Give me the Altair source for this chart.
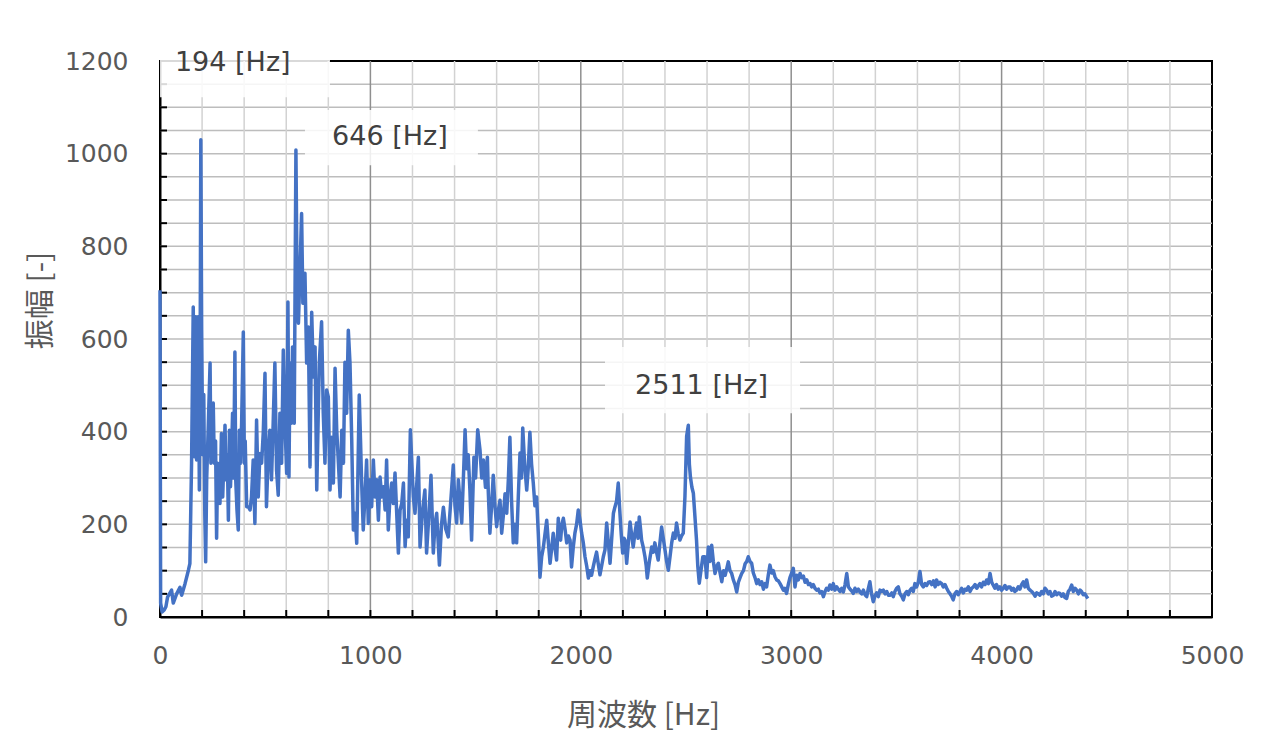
import altair as alt
import pandas as pd

# ---- spectrum data (frequency [Hz], amplitude [-]) ----
freq = [0, 3, 10, 20, 28, 36, 55, 63, 79, 95, 103, 119, 135, 142, 150, 158, 163, 169, 174, 182, 187, 191, 194,
        198, 203, 208, 213, 217, 222, 230, 238, 242, 246, 253, 258, 264, 269, 274, 280, 285, 292, 298, 303, 309,
        314, 320, 325, 330, 335, 340, 345, 350, 356, 360, 366, 372, 377, 383, 388, 396, 401, 405, 412, 420, 428,
        435, 443, 451, 459, 467, 475, 483, 491, 499, 506, 514, 522, 530, 538, 546, 554, 562, 570, 578, 586, 594,
        602, 608, 613, 618, 624, 630, 638, 646, 652, 658, 666, 673, 679, 689, 697, 705, 713, 721, 729, 737, 745,
        757, 768, 776, 784, 792, 800, 808, 816, 824, 832, 840, 848, 856, 864, 872, 879, 887, 895, 903, 911, 919,
        927, 935, 947, 953, 958, 966, 974, 982, 990, 998, 1006, 1014, 1022, 1030, 1038, 1046, 1054, 1062, 1070,
        1077, 1085, 1093, 1101, 1109, 1117, 1125, 1133, 1141, 1149, 1157, 1165, 1172, 1180, 1190,
        1204, 1212, 1228, 1236, 1248, 1259, 1267, 1278, 1288, 1299, 1307, 1315, 1328, 1338, 1347, 1358, 1370,
        1382, 1394, 1402, 1410, 1418, 1434, 1442, 1450, 1457, 1465, 1473, 1481, 1492, 1500, 1510, 1521, 1529,
        1537, 1547, 1556, 1560, 1568, 1576, 1584, 1592, 1600, 1608, 1616, 1624, 1632, 1640, 1648, 1656, 1663,
        1671, 1679, 1687, 1695, 1703, 1711, 1718, 1724, 1733, 1743, 1750, 1758, 1766, 1774, 1782, 1790, 1798,
        1806, 1814, 1822, 1830, 1838,
        1846, 1854, 1862, 1869, 1877, 1885, 1893, 1898, 1904, 1910, 1917, 1925, 1933, 1941, 1949, 1956, 1964,
        1972, 1980, 1988, 1996, 2004, 2012, 2020, 2028, 2036, 2044, 2051, 2059, 2067, 2075, 2083, 2091, 2099,
        2107, 2115, 2123, 2131, 2139, 2147, 2155, 2162, 2170, 2178, 2186, 2192, 2199, 2205, 2210, 2218, 2226,
        2234, 2241, 2249, 2257, 2265, 2272, 2278, 2284, 2289, 2297, 2305, 2311, 2316, 2326, 2337, 2345, 2352,
        2360, 2368, 2376, 2384, 2392, 2400, 2408, 2416, 2424, 2432, 2440, 2448, 2455, 2463, 2471, 2479, 2487,
        2495, 2503, 2511, 2516, 2521, 2528, 2535, 2542, 2550, 2556, 2563,
        2571, 2580, 2590, 2598, 2606, 2614, 2622, 2630, 2638, 2646, 2654, 2662, 2670, 2678, 2686, 2694, 2701,
        2709, 2717, 2725, 2733, 2741, 2749, 2757, 2765, 2773, 2781, 2789, 2796, 2804, 2812, 2820, 2828, 2836,
        2844, 2852, 2860, 2868, 2876, 2883, 2891, 2899, 2907, 2915, 2923, 2931, 2939, 2947, 2955, 2963, 2970,
        2978, 2986, 2994, 3002, 3010, 3018, 3026, 3034, 3042, 3050, 3058, 3066, 3074, 3082, 3090, 3097, 3105,
        3113, 3121, 3129, 3137, 3145, 3153, 3161, 3168, 3176, 3184, 3192, 3200, 3208, 3216, 3224, 3232, 3240,
        3248, 3256, 3264, 3272, 3280, 3288, 3295, 3303, 3311, 3319, 3327, 3335, 3343, 3351, 3359, 3366, 3374,
        3382, 3390, 3398, 3406, 3414, 3422, 3430, 3438, 3446, 3454, 3462, 3470, 3478, 3485, 3493, 3501, 3509,
        3517, 3525, 3533, 3541, 3549, 3557, 3565, 3573, 3580, 3588, 3596, 3604, 3612, 3620, 3628, 3636, 3644,
        3652, 3660, 3668, 3676, 3684, 3691, 3699, 3707, 3715, 3723, 3731, 3739, 3747, 3755, 3762, 3770, 3778,
        3786, 3794, 3802, 3810, 3818, 3826, 3834, 3842, 3850, 3858, 3866, 3874, 3882, 3890, 3897, 3905, 3913,
        3921, 3929, 3937, 3945, 3953, 3961, 3968, 3976, 3984, 3992, 4000, 4008, 4016, 4024, 4032, 4040, 4048,
        4056, 4063, 4071, 4079, 4087, 4095, 4103, 4111, 4119, 4127, 4135, 4143, 4151, 4159, 4167, 4174, 4182,
        4190, 4198, 4206, 4214, 4222, 4230, 4238, 4246, 4254, 4262, 4270, 4277, 4285, 4293, 4301, 4309, 4317,
        4325, 4333, 4341, 4349, 4357, 4365, 4373, 4380, 4388, 4396, 4404, 4410]

amp = [705, 30, 11, 15, 22, 43, 58, 30, 50, 64, 47, 72, 101, 115, 332, 669, 346, 648, 339, 648, 274, 583, 1030,
       620, 350, 480, 220, 119, 300, 420, 548, 332, 400, 462, 332, 380, 170, 332, 290, 245, 396, 259, 330, 414,
       296, 350, 209, 403, 281, 350, 440, 300, 572, 296, 230, 188, 403, 332, 420, 615, 332, 380, 238, 238, 231,
       259, 339, 202, 425, 259, 353, 332, 400, 526, 238, 346, 403, 296, 420, 548, 317, 263, 440, 332, 576, 418,
       310, 680, 302, 548, 418, 583, 418, 1008, 691, 634, 760, 871, 677, 742, 548, 626, 324, 658, 518, 583, 274,
       548, 637, 440, 332, 490, 475, 274, 388, 289, 537, 403, 332, 259, 403, 332, 550, 440, 619, 548, 388, 188,
       224, 159, 479, 382, 296, 188, 259, 339, 202, 296, 238, 339, 259, 296, 209, 302, 259, 281, 231,
       339, 188, 259, 289, 245, 311, 224, 138, 231, 245, 289, 152, 209, 173, 404,
       260, 224, 345, 151, 230, 274, 138, 220, 306, 138, 200, 224, 112, 200, 237, 190, 173,
       250, 328, 240, 203, 296, 203, 300, 404, 320, 350, 274, 166, 345, 300, 404, 360, 300,
       339, 280, 345, 274, 181, 240, 306, 240, 195, 230, 252, 181, 220, 266, 224, 300, 388,
       250, 160, 200, 160, 260, 354, 300, 408, 330, 274, 320, 399, 330, 290, 240, 259, 180,
       86, 130, 150, 180, 209,
       160, 116, 150, 181, 150, 123, 213, 170, 166, 200, 213, 190, 160, 175, 166, 108, 150,
       181, 200, 231, 210, 181, 160, 130, 110, 84, 100, 90, 108, 125, 140, 115, 91, 110,
       130, 145, 203, 160, 116, 170, 224, 237, 250, 289, 224, 180, 138, 170, 166, 116, 160,
       205, 180, 151, 180, 203, 170, 216, 190, 166, 150, 130, 110, 84, 120, 151, 140, 160,
       140, 123, 160, 194, 170, 145, 120, 101, 130, 160, 181, 170, 203, 180, 166, 175, 181,
       260, 390, 414, 330, 302, 280, 267, 220, 166, 110, 73,
       100, 130, 130, 85, 151, 120, 155, 120, 94, 110, 116, 95, 76, 100, 90, 105, 119,
       100, 94, 80, 70, 54, 75, 85, 94, 100, 115, 120, 130, 120, 116, 95, 85, 72,
       80, 70, 76, 60, 72, 65, 90, 112, 95, 100, 87, 80, 78, 72, 65, 58, 62,
       51, 70, 85, 95, 105, 65, 90, 80, 94, 85, 88, 75, 80, 70, 72, 65, 70,
       62, 58, 60, 52, 55, 44, 55, 62, 58, 69, 60, 72, 58, 65, 60, 55, 62,
       54, 70, 94, 65, 60, 56, 51, 62, 55, 60, 54, 50, 58, 48, 44, 60, 76,
       50, 33, 45, 52, 44, 58, 55, 58, 50, 55, 47, 47, 52, 44, 55, 62, 65,
       50, 45, 37, 50, 55, 48, 58, 62, 55, 72, 65, 75, 98, 70, 65, 72, 68,
       75, 76, 70, 78, 65, 80, 70, 75, 72, 65, 70, 62, 55, 50, 45, 37, 50,
       55, 48, 55, 62, 52, 60, 58, 65, 55, 62, 65, 70, 62, 68, 72, 65, 75,
       70, 80, 72, 94, 75, 68, 62, 70, 60, 65, 58, 62, 68, 60, 65, 65, 58,
       62, 55, 58, 65, 60, 70, 76, 65, 80, 62, 58, 55, 51, 45, 52, 50, 47,
       55, 50, 62, 58, 50, 55, 45, 47, 55, 48, 52, 51, 45, 50, 42, 40, 55,
       60, 69, 55, 62, 58, 50, 58, 55, 48, 50, 44, 40]

# ---- axis ticks / grid values ----
x_label_values = [0, 1000, 2000, 3000, 4000, 5000]
y_label_values = [0, 200, 400, 600, 800, 1000, 1200]
x_minor_grid = [200, 400, 600, 800, 1200, 1400, 1600, 1800, 2200, 2400, 2600, 2800,
                3200, 3400, 3600, 3800, 4200, 4400, 4600, 4800]
x_major_grid = [1000, 2000, 3000, 4000]
y_grid = [50, 100, 150, 200, 250, 300, 350, 400, 450, 500, 550, 600, 650, 700, 750,
          800, 850, 900, 950, 1000, 1050, 1100, 1150]
x_tick_values = [0, 200, 400, 600, 800, 1000, 1200, 1400, 1600, 1800, 2000, 2200, 2400,
                 2600, 2800, 3000, 3200, 3400, 3600, 3800, 4000, 4200, 4400, 4600, 4800, 5000]
y_tick_values = [0, 50, 100, 150, 200, 250, 300, 350, 400, 450, 500, 550, 600, 650, 700,
                 750, 800, 850, 900, 950, 1000, 1050, 1100, 1150, 1200]

# ---- peak annotations ----
ann_text = ["194 [Hz]", "646 [Hz]", "2511 [Hz]"]
ann_x = [71, 818, 2258]
ann_y = [1195, 1036, 499]
box_x1 = [0, 689, 2115]
box_x2 = [808, 1511, 3042]
box_y1 = [1122, 975, 440]
box_y2 = [1219, 1094, 583]

W, H = 1052, 556

df = pd.DataFrame({"f": freq, "a": amp})
ann = pd.DataFrame({"t": ann_text, "x": ann_x, "y": ann_y,
                    "x1": box_x1, "x2": box_x2, "y1": box_y1, "y2": box_y2})

xs = alt.Scale(domain=[0, 5000], nice=False, zero=False)
ys = alt.Scale(domain=[0, 1200], nice=False, zero=False)

xaxis = alt.Axis(values=x_label_values, format="d", grid=False, ticks=False, tickSize=0,
                 labelFlush=False, labelOverlap=False,
                 labelFont="DejaVu Sans", labelFontSize=25, labelColor="#595959",
                 labelPadding=26, domainColor="#000000", domainWidth=2,
                 title="周波数 [Hz]", titleFont="Noto Sans CJK JP", titleFontSize=30,
                 titleFontWeight="normal", titleColor="#595959",
                 titleX=483, titleY=98, titleBaseline="middle", titleAnchor="middle")
yaxis = alt.Axis(values=y_label_values, format="d", grid=False, ticks=False, tickSize=0,
                 labelFlush=False, labelOverlap=False,
                 labelFont="DejaVu Sans", labelFontSize=25, labelColor="#595959",
                 labelPadding=32, domainColor="#000000", domainWidth=2,
                 title="振幅 [-]", titleFont="Noto Sans CJK JP", titleFontSize=30,
                 titleFontWeight="normal", titleColor="#595959",
                 titleX=-120, titleY=239, titleBaseline="middle", titleAnchor="middle")


def X(field):
    return alt.X(field, type="quantitative", scale=xs, axis=xaxis)


def Y(field):
    return alt.Y(field, type="quantitative", scale=ys, axis=yaxis)


hgrid = alt.Chart(pd.DataFrame({"v": y_grid})).mark_rule(color="#bdbdbd", strokeWidth=1.5).encode(y=Y("v"))
vminor = alt.Chart(pd.DataFrame({"v": x_minor_grid})).mark_rule(color="#d2d2d2", strokeWidth=1.5).encode(x=X("v"))
vmajor = alt.Chart(pd.DataFrame({"v": x_major_grid})).mark_rule(color="#8f8f8f", strokeWidth=1.5).encode(x=X("v"))

yticks = alt.Chart(pd.DataFrame({"v": y_tick_values})).mark_rule(color="#000000", strokeWidth=2).encode(
    y=Y("v"), x=alt.value(0), x2=alt.value(7))
xticks = alt.Chart(pd.DataFrame({"v": x_tick_values})).mark_rule(color="#000000", strokeWidth=2).encode(
    x=X("v"), y=alt.value(H), y2=alt.value(H - 7))

line = alt.Chart(df).mark_line(color="#4472C4", strokeWidth=3.5, strokeJoin="round").encode(
    x=X("f"), y=Y("a"), order="f:Q")

boxes = alt.Chart(ann).mark_rect(color="#ffffff", opacity=0.85).encode(
    x=X("x1"), x2="x2", y=Y("y1"), y2="y2")
labels = alt.Chart(ann).mark_text(align="left", baseline="middle", font="DejaVu Sans",
                                  fontSize=27, color="#404040").encode(
    x=X("x"), y=Y("y"), text="t:N")

chart = alt.layer(hgrid, vminor, vmajor, yticks, xticks, line, boxes, labels).properties(
    width=W, height=H,
    autosize=alt.AutoSizeParams(type="none"),
    padding={"left": 152, "top": 53, "right": 60, "bottom": 120},
    background="#ffffff",
).configure_view(stroke="#000000", strokeWidth=2)

chart.save("out.html", embed_options={"renderer": "svg", "actions": False})
